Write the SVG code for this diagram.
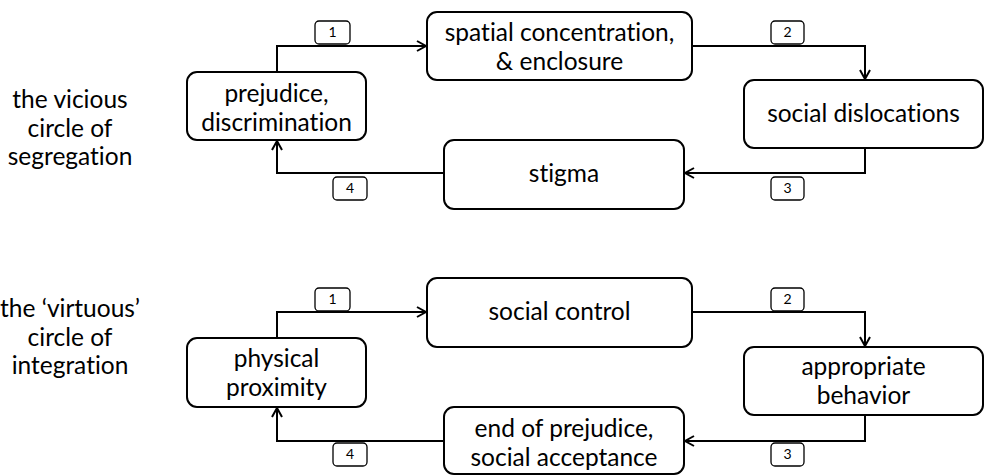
<svg xmlns="http://www.w3.org/2000/svg" width="984" height="475" viewBox="0 0 984 475">
<defs>
<marker id="arr" markerWidth="12" markerHeight="12" refX="10" refY="6" orient="auto" markerUnits="userSpaceOnUse">
<path d="M1,1 L10,6 L1,11" fill="none" stroke="#000" stroke-width="2"/>
</marker>
<style>
.box{fill:#fff;stroke:#000;stroke-width:2}
.num{fill:#fff;stroke:#000;stroke-width:1.3}
.t{font-family:Lato,"Liberation Sans",Arial,sans-serif;font-size:24.5px;fill:#000;text-anchor:middle;font-variant-ligatures:none}
.n{font-family:Lato,"Liberation Sans",Arial,sans-serif;font-size:14px;fill:#000;text-anchor:middle}
.c{fill:none;stroke:#000;stroke-width:2;marker-end:url(#arr)}
</style>
</defs>
<rect width="984" height="475" fill="#fff"/>
<g id="connectors">
<path class="c" d="M277,72 V46 H426"/>
<path class="c" d="M692,46 H865 V79"/>
<path class="c" d="M865,148 V173 H685"/>
<path class="c" d="M444,173 H277 V141"/>
<path class="c" d="M277,338 V312 H426"/>
<path class="c" d="M692,312 H865 V346"/>
<path class="c" d="M865,415 V441 H685"/>
<path class="c" d="M444,441 H277 V408"/>
<g id="labels">
<rect class="num" x="315" y="21" width="35" height="23" rx="4"/><text class="n" x="332.5" y="37">1</text>
<rect class="num" x="771" y="21" width="33" height="23" rx="4"/><text class="n" x="787.5" y="37">2</text>
<rect class="num" x="771" y="177" width="33" height="23" rx="4"/><text class="n" x="787.5" y="193">3</text>
<rect class="num" x="333" y="177" width="34" height="23" rx="4"/><text class="n" x="350" y="193">4</text>
<rect class="num" x="315" y="288" width="35" height="23" rx="4"/><text class="n" x="332.5" y="304">1</text>
<rect class="num" x="771" y="288" width="33" height="23" rx="4"/><text class="n" x="787.5" y="304">2</text>
<rect class="num" x="771" y="443" width="33" height="23" rx="4"/><text class="n" x="787.5" y="459">3</text>
<rect class="num" x="333" y="443" width="34" height="23" rx="4"/><text class="n" x="350" y="459">4</text>
</g>
</g>
<g id="title-vicious">
<text class="t" x="70" y="108">the vicious</text>
<text class="t" x="70" y="137">circle of</text>
<text class="t" x="70" y="165">segregation</text>
</g>
<g id="title-virtuous">
<text class="t" x="70" y="317">the ‘virtuous’</text>
<text class="t" x="70" y="346">circle of</text>
<text class="t" x="70" y="374">integration</text>
</g>
<g id="prejudice">
<rect class="box" x="187" y="72" width="179" height="68" rx="10"/>
<text class="t" x="276.5" y="102">prejudice,</text>
<text class="t" x="276.5" y="131">discrimination</text>
</g>
<g id="spatial">
<rect class="box" x="427" y="12" width="265" height="68" rx="10"/>
<text class="t" x="559.5" y="41">spatial concentration,</text>
<text class="t" x="559.5" y="70">&amp; enclosure</text>
</g>
<g id="dislocations">
<rect class="box" x="744" y="80" width="239" height="68" rx="10"/>
<text class="t" x="863.5" y="122">social dislocations</text>
</g>
<g id="stigma">
<rect class="box" x="444" y="140" width="240" height="69" rx="10"/>
<text class="t" x="564" y="182">stigma</text>
</g>
<g id="proximity">
<rect class="box" x="187" y="338" width="179" height="69" rx="10"/>
<text class="t" x="276.5" y="367">physical</text>
<text class="t" x="276.5" y="396">proximity</text>
</g>
<g id="control">
<rect class="box" x="427" y="278" width="265" height="69" rx="10"/>
<text class="t" x="559.5" y="320">social control</text>
</g>
<g id="behavior">
<rect class="box" x="744" y="347" width="239" height="68" rx="10"/>
<text class="t" x="863.5" y="375">appropriate</text>
<text class="t" x="863.5" y="404">behavior</text>
</g>
<g id="acceptance">
<rect class="box" x="444" y="407" width="240" height="67" rx="10"/>
<text class="t" x="564" y="437">end of prejudice,</text>
<text class="t" x="564" y="466">social acceptance</text>
</g>
</svg>
